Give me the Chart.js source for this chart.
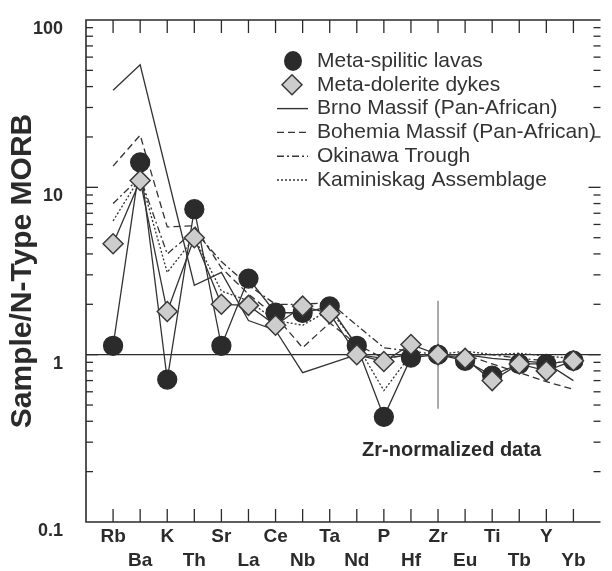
<!DOCTYPE html>
<html>
<head>
<meta charset="utf-8">
<script src="https://cdn.jsdelivr.net/npm/chart.js@4.4.1/dist/chart.umd.min.js"></script>
<style>
  html, body { margin: 0; padding: 0; background: #fff; overflow: hidden; }
  canvas { display: block; }
</style>
</head>
<body>
<canvas id="spider" width="612" height="571"></canvas>
<script>
// Elements along the x axis (alternate labels go on the second row)
const elements = ['Rb', 'Ba', 'K', 'Th', 'Sr', 'La', 'Ce', 'Nb', 'Ta', 'Nd', 'P', 'Hf', 'Zr', 'Eu', 'Ti', 'Tb', 'Y', 'Yb'];

// Sample / N-type MORB values
const spiliticLavas = [1.13, 14.1, 0.71, 7.4, 1.13, 2.85, 1.78, 1.78, 1.94, 1.13, 0.425, 0.96, 1.0, 0.92, 0.75, 0.88, 0.88, 0.92];
const doleriteDykes = [4.6, 11.0, 1.81, 5.0, 2.0, 1.97, 1.5, 1.95, 1.76, 1.0, 0.91, 1.15, 1.0, 0.95, 0.70, 0.88, 0.80, 0.92];
const brnoMassif = [38, 54, null, 2.6, 3.1, 1.6, 1.4, 0.78, null, 1.0, 0.95, 1.0, 1.0, 1.0, 0.95, 0.92, 0.89, 0.70];
const bohemiaMassif = [13.4, 20.5, 5.8, 5.9, 3.3, 2.3, 1.7, 1.1, 1.55, 1.15, 0.95, 1.0, 1.0, 1.0, 0.88, 0.78, 0.69, 0.62];
const okinawaTrough = [8.0, 11.5, 4.0, 5.5, 3.6, 2.6, 2.0, 2.0, 2.05, 1.5, 1.1, 1.05, 1.0, 1.0, 1.0, 0.95, 0.92, 0.88];
const kaminiskag = [6.3, 11.5, 3.1, 5.0, 2.4, 2.1, 1.6, 1.5, 1.85, 1.15, 0.61, 1.0, 1.0, 1.05, 1.0, 1.02, 0.98, 0.95];

const yDecades = [0.1, 1, 10, 100];

const FONT = "'Liberation Sans', Arial, Helvetica, sans-serif";
const INK = '#2b2b2b';

function pts(arr) {
    return arr.map((v, i) => ({ x: i + 1, y: v }));
}

// Frame with inward ticks, the y = 1 line and the Zr marker line
const framePlugin = {
    id: 'frame',
    beforeDatasetsDraw(chart) {
        const { ctx, chartArea: a, scales: { x, y } } = chart;
        const seg = (x1, y1, x2, y2) => {
            ctx.beginPath();
            ctx.moveTo(x1, y1);
            ctx.lineTo(x2, y2);
            ctx.stroke();
        };
        ctx.save();
        ctx.strokeStyle = INK;
        ctx.lineWidth = 1.6;
        ctx.beginPath();
        ctx.moveTo(a.right, a.top);
        ctx.lineTo(a.left, a.top);
        ctx.lineTo(a.left, a.bottom);
        ctx.lineTo(a.right, a.bottom);
        ctx.stroke();

        ctx.lineWidth = 1.3;
        elements.forEach((el, i) => {
            const px = x.getPixelForValue(i + 1);
            seg(px, a.top, px, a.top + 13);
            seg(px, a.bottom, px, a.bottom - 13);
        });

        [0.1, 1, 10].forEach(d => {
            for (let m = 1; m <= 9; m++) {
                if (d === 0.1 && m === 1) continue;
                const py = y.getPixelForValue(d * m);
                const len = m === 1 ? 12 : 7;
                seg(a.left, py, a.left + len, py);
                seg(a.right, py, a.right - len, py);
            }
        });

        // reference line at 1
        ctx.lineWidth = 1.2;
        seg(a.left, y.getPixelForValue(1), a.right, y.getPixelForValue(1));

        // Zr normalisation marker
        const zx = x.getPixelForValue(elements.indexOf('Zr') + 1);
        ctx.lineWidth = 1;
        ctx.strokeStyle = '#555';
        seg(zx, y.getPixelForValue(2.1), zx, y.getPixelForValue(0.475));

        ctx.fillStyle = INK;
        ctx.font = 'bold 20px ' + FONT;
        ctx.textAlign = 'center';
        ctx.textBaseline = 'middle';
        ctx.fillText('Zr-normalized data', x.getPixelForValue(13.5), y.getPixelForValue(0.266));
        ctx.restore();
    }
};

// Legend in the upper right, drawn by hand to match the figure
const legendPlugin = {
    id: 'figLegend',
    afterDraw(chart) {
        const ctx = chart.ctx;
        const items = [
            { label: 'Meta-spilitic lavas', kind: 'circle' },
            { label: 'Meta-dolerite dykes', kind: 'diamond' },
            { label: 'Brno Massif (Pan-African)', dash: [] },
            { label: 'Bohemia Massif (Pan-African)', dash: [7, 4] },
            { label: 'Okinawa Trough', dash: [7, 3, 2, 3] },
            { label: 'Kaminiskag Assemblage', dash: [2, 2] }
        ];
        ctx.save();
        items.forEach((it, i) => {
            const cy = 61 + i * 23.8;
            if (it.kind === 'circle') {
                ctx.fillStyle = INK;
                ctx.beginPath();
                ctx.ellipse(293, cy, 9, 10, 0, 0, Math.PI * 2);
                ctx.fill();
            } else if (it.kind === 'diamond') {
                ctx.fillStyle = '#cdcdcd';
                ctx.strokeStyle = '#3a3a3a';
                ctx.lineWidth = 1.5;
                ctx.beginPath();
                ctx.moveTo(292, cy - 10);
                ctx.lineTo(302, cy);
                ctx.lineTo(292, cy + 10);
                ctx.lineTo(282, cy);
                ctx.closePath();
                ctx.fill();
                ctx.stroke();
            } else {
                ctx.strokeStyle = '#333';
                ctx.lineWidth = 1.4;
                ctx.setLineDash(it.dash);
                ctx.beginPath();
                ctx.moveTo(277, cy);
                ctx.lineTo(308, cy);
                ctx.stroke();
                ctx.setLineDash([]);
            }
            ctx.fillStyle = '#333';
            ctx.font = '21px ' + FONT;
            ctx.textAlign = 'left';
            ctx.textBaseline = 'middle';
            ctx.fillText(it.label, 317, cy);
        });
        ctx.restore();
    }
};

function refLine(label, data, dash, order) {
    return {
        label: label,
        data: pts(data),
        borderColor: '#333',
        borderWidth: 1.3,
        borderDash: dash,
        pointRadius: 0,
        spanGaps: true,
        order: order
    };
}

const ctx = document.getElementById('spider').getContext('2d');
const chart = new Chart(ctx, {
    type: 'line',
    data: {
        datasets: [
            {
                label: 'Meta-dolerite dykes',
                data: pts(doleriteDykes),
                borderColor: '#333',
                borderWidth: 1.3,
                pointStyle: 'rectRot',
                pointRadius: 10,
                pointBackgroundColor: '#cdcdcd',
                pointBorderColor: '#3a3a3a',
                pointBorderWidth: 1.5,
                order: 0
            },
            {
                label: 'Meta-spilitic lavas',
                data: pts(spiliticLavas),
                borderColor: '#333',
                borderWidth: 1.3,
                pointStyle: 'circle',
                pointRadius: 9.5,
                pointBackgroundColor: INK,
                pointBorderColor: INK,
                order: 1
            },
            refLine('Brno Massif (Pan-African)', brnoMassif, [], 2),
            refLine('Bohemia Massif (Pan-African)', bohemiaMassif, [7, 4], 3),
            refLine('Okinawa Trough', okinawaTrough, [7, 3, 2, 3], 4),
            refLine('Kaminiskag Assemblage', kaminiskag, [2, 2], 5)
        ]
    },
    options: {
        responsive: false,
        animation: false,
        layout: { padding: { top: 20, right: 0, bottom: 0, left: 0 } },
        plugins: {
            legend: { display: false },
            tooltip: { enabled: false }
        },
        scales: {
            x: {
                type: 'linear',
                min: 0,
                max: elements.length + 1,
                grid: { display: false, drawTicks: false },
                border: { display: false },
                afterFit: s => {
                    s.height = 49;
                    s.paddingLeft = 0;
                    s.paddingRight = 0;
                },
                ticks: {
                    stepSize: 1,
                    autoSkip: false,
                    maxRotation: 0,
                    padding: 3,
                    color: INK,
                    font: { family: FONT, size: 19, weight: 'bold', lineHeight: 1.25 },
                    callback: v => {
                        const name = elements[v - 1];
                        if (!name) return '';
                        return (v - 1) % 2 === 0 ? [name, ''] : ['', name];
                    }
                }
            },
            y: {
                type: 'logarithmic',
                min: 0.1,
                max: 100,
                grid: { display: false, drawTicks: false },
                border: { display: false },
                afterFit: s => {
                    s.width = 86;
                    s.paddingTop = 0;
                    s.paddingBottom = 0;
                },
                ticks: {
                    padding: 23,
                    labelOffset: 9,
                    color: INK,
                    font: { family: FONT, size: 18, weight: 'bold' },
                    callback: v => yDecades.find(d => Math.abs(d - v) < 1e-9) !== undefined ? String(v) : ''
                },
                title: {
                    display: true,
                    text: 'Sample/N-Type MORB',
                    color: INK,
                    font: { family: FONT, size: 30, weight: 'bold' },
                    padding: { top: 5, bottom: 0 }
                }
            }
        }
    },
    plugins: [framePlugin, legendPlugin]
});
</script>
</body>
</html>
